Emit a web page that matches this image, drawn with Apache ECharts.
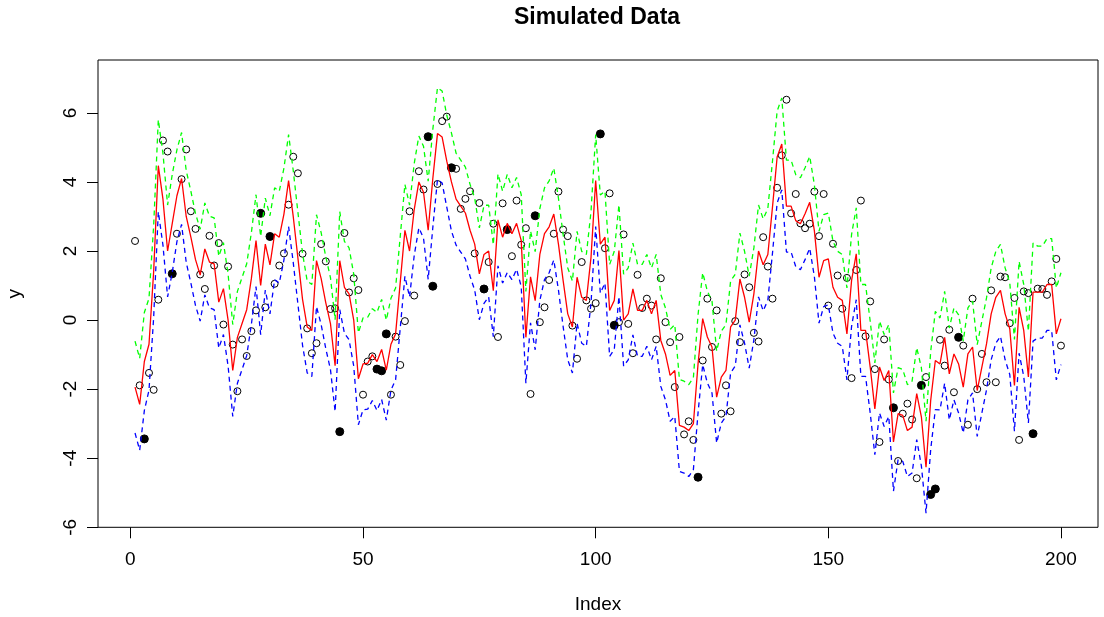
<!DOCTYPE html>
<html>
<head>
<meta charset="utf-8">
<script src="https://cdn.jsdelivr.net/npm/echarts@6/dist/echarts.min.js"></script>
<style>
  html, body { margin: 0; padding: 0; background: #fff; }
  #chart { width: 1104px; height: 617px; }
</style>
</head>
<body>
<div id="chart"></div>
<script>
// Smoothed level (red), upper band (green), lower band (blue), index 1..200
const level = [
  -1.94,-2.44,-1.2,-0.7,1.4,4.47,3.5,2.0,2.8,3.6,4.1,3.0,2.4,1.75,1.3,2.06,1.68,1.63,0.52,0.91,
  0.0,-1.46,-0.5,-0.1,0.3,1.2,2.3,1.0,2.2,1.6,2.5,2.4,3.07,4.04,3.0,1.8,0.6,-0.2,-0.3,1.72,
  1.2,0.5,-0.1,-1.32,1.72,0.95,0.76,0.0,-1.7,-1.27,-1.25,-1.0,-1.2,-0.85,-1.45,-0.7,-0.4,1.1,2.6,2.0,
  3.2,4.0,3.7,2.6,4.1,5.4,5.3,4.6,4.0,3.5,3.3,3.1,2.6,2.2,1.34,1.9,2.0,0.85,2.9,2.4,
  2.8,2.5,2.8,2.3,-0.5,1.25,0.56,1.9,2.5,2.7,3.07,2.2,1.15,0.18,-0.2,1.24,0.66,0.57,1.82,4.04,
  2.2,2.4,0.28,0.57,2.01,0.0,0.18,0.9,0.28,0.28,0.57,0.18,0.57,-0.59,-0.98,-1.6,-1.46,-3.05,-3.1,-3.2,
  -3.0,-1.27,0.04,-0.49,-0.78,-2.23,-1.65,-1.46,-0.2,0.0,1.19,0.66,-0.06,0.76,2.0,1.6,1.9,3.27,4.72,5.1,
  3.3,3.3,2.88,2.79,3.08,3.41,2.59,1.24,1.72,1.77,0.95,0.66,0.57,-0.4,1.15,1.92,-0.3,-0.3,-1.36,-2.57,
  -1.36,-1.75,-1.46,-3.53,-2.71,-2.76,-3.2,-3.1,-2.13,-2.8,-4.26,-2.33,-1.17,-1.27,-0.5,-1.56,-0.98,-1.27,-1.94,-0.98,
  -0.78,-2.04,-1.36,-0.69,0.18,0.66,0.86,0.18,-0.25,-1.89,0.37,-0.3,-1.65,0.81,0.81,0.81,1.03,1.03,-0.4,0.04
];
const upper = [
  -0.61,-1.11,0.22,0.63,2.73,5.8,4.83,3.33,4.22,4.93,5.43,4.33,3.73,3.08,2.63,3.39,3.01,2.96,1.85,2.24,
  1.33,-0.13,0.83,1.23,1.63,2.53,3.63,2.42,3.53,3.02,3.83,3.73,4.4,5.37,4.33,3.13,1.93,1.13,1.03,3.05,
  2.53,1.83,1.23,0.01,3.14,2.28,2.09,1.33,-0.37,0.06,0.08,0.33,0.22,0.6,0.0,0.63,0.93,2.43,3.93,3.33,
  4.53,5.33,5.03,4.02,5.52,6.73,6.63,5.93,5.42,4.83,4.63,4.43,3.93,3.53,2.67,3.32,3.33,2.18,4.23,3.73,
  4.22,3.83,4.13,3.63,0.83,2.58,1.98,3.23,3.83,4.03,4.4,3.53,2.48,1.51,1.13,2.57,1.99,1.9,3.15,5.37,
  3.62,3.73,1.61,1.99,3.34,1.33,1.51,2.23,1.61,1.61,1.9,1.51,1.9,0.74,0.35,-0.27,-0.13,-1.72,-1.77,-1.87,
  -1.67,0.15,1.37,0.84,0.55,-0.9,-0.32,-0.13,1.13,1.33,2.52,1.99,1.27,2.09,3.33,2.93,3.23,4.6,6.05,6.43,
  4.63,4.63,4.21,4.12,4.41,4.74,3.92,2.57,3.05,3.1,2.28,1.99,1.9,0.93,2.48,3.25,1.03,1.03,-0.03,-1.24,
  -0.03,-0.42,-0.13,-2.11,-1.38,-1.43,-1.87,-1.77,-0.8,-1.38,-2.93,-0.91,0.25,0.06,0.83,-0.23,0.35,0.15,-0.61,0.35,
  0.55,-0.71,-0.03,0.64,1.51,1.99,2.19,1.51,1.08,-0.56,1.7,1.03,-0.32,2.23,2.14,2.14,2.36,2.36,0.93,1.37
];
const lower = [
  -3.27,-3.77,-2.62,-2.03,0.07,3.14,2.17,0.67,1.38,2.27,2.77,1.67,1.07,0.42,-0.03,0.73,0.35,0.3,-0.81,-0.42,
  -1.33,-2.79,-1.83,-1.43,-1.03,-0.13,0.97,-0.42,0.87,0.18,1.17,1.07,1.74,2.71,1.67,0.47,-0.73,-1.53,-1.63,0.39,
  -0.13,-0.83,-1.43,-2.65,0.3,-0.38,-0.57,-1.33,-3.03,-2.6,-2.58,-2.33,-2.62,-2.3,-2.9,-2.03,-1.73,-0.23,1.27,0.67,
  1.87,2.67,2.37,1.18,2.68,4.07,3.97,3.27,2.58,2.17,1.97,1.77,1.27,0.87,0.01,0.48,0.67,-0.48,1.57,1.07,
  1.38,1.17,1.47,0.97,-1.83,-0.08,-0.86,0.57,1.17,1.37,1.74,0.87,-0.18,-1.15,-1.53,-0.09,-0.67,-0.76,0.49,2.71,
  0.78,1.07,-1.05,-0.85,0.68,-1.33,-1.15,-0.43,-1.05,-1.05,-0.76,-1.15,-0.76,-1.92,-2.31,-2.93,-2.79,-4.38,-4.43,-4.53,
  -4.33,-2.69,-1.29,-1.82,-2.11,-3.56,-2.98,-2.79,-1.53,-1.33,-0.14,-0.67,-1.39,-0.57,0.67,0.27,0.57,1.94,3.39,3.77,
  1.97,1.97,1.55,1.46,1.75,2.08,1.26,-0.09,0.39,0.44,-0.38,-0.67,-0.76,-1.73,-0.18,0.59,-1.63,-1.63,-2.69,-3.9,
  -2.69,-3.08,-2.79,-4.95,-4.04,-4.09,-4.53,-4.43,-3.46,-4.22,-5.59,-3.75,-2.59,-2.6,-1.83,-2.89,-2.31,-2.69,-3.27,-2.31,
  -2.11,-3.37,-2.69,-2.02,-1.15,-0.67,-0.47,-1.15,-1.58,-3.22,-0.96,-1.63,-2.98,-0.61,-0.52,-0.52,-0.3,-0.3,-1.73,-1.29
];
// Observations, index 1..200
const observed = [
  2.29,-1.89,-3.44,-1.53,-2.02,0.59,5.2,4.88,1.34,2.5,4.08,4.94,3.15,2.64,1.32,0.9,2.44,1.58,2.23,-0.13,
  1.55,-0.71,-2.06,-0.56,-1.04,-0.32,0.28,3.09,0.37,2.42,1.05,1.58,1.93,3.34,4.73,4.25,1.92,-0.24,-0.96,-0.67,
  2.2,1.7,0.32,0.34,-3.23,2.52,0.8,1.21,0.87,-2.16,-1.2,-1.05,-1.42,-1.47,-0.4,-2.16,-0.48,-1.3,-0.03,3.15,
  0.71,4.31,3.78,5.31,0.98,3.94,5.76,5.89,4.41,4.38,3.22,3.51,3.73,1.93,3.39,0.9,1.68,2.79,-0.49,3.38,
  2.62,1.85,3.46,2.18,2.66,-2.14,3.02,-0.06,0.37,1.16,2.5,3.72,2.62,2.43,-0.16,-1.12,1.68,0.57,0.33,0.49,
  5.39,2.08,3.67,-0.15,-0.06,2.48,-0.11,-0.96,1.31,0.35,0.62,0.42,-0.56,1.21,-0.06,-0.64,-1.94,-0.49,-3.31,-2.93,
  -3.47,-4.55,-1.17,0.62,-0.78,0.28,-2.71,-1.89,-2.64,-0.03,-0.64,1.32,0.95,-0.37,-0.62,2.4,1.55,0.62,3.83,4.77,
  6.38,3.09,3.65,2.8,2.66,2.79,3.72,2.43,3.65,0.42,2.21,1.29,0.33,1.22,-1.68,1.45,3.46,-0.47,0.54,-1.42,
  -3.53,-0.56,-1.72,-2.54,-4.08,-2.71,-2.42,-2.88,-4.58,-1.89,-1.65,-5.05,-4.89,-0.57,-1.32,-0.28,-2.09,-0.5,-0.74,-3.03,
  0.62,-2.0,-0.98,-1.8,0.86,-1.8,1.26,1.24,-0.09,0.64,-3.47,0.83,0.78,-3.29,0.91,0.9,0.73,1.12,1.77,-0.74
];
// Indices of the flagged (solid) observations
const flagged = [3,9,28,30,45,53,54,55,64,65,69,76,81,87,101,104,122,164,170,172,173,178,194];
const xTicks = [0, 50, 100, 150, 200];
const yTicks = [-6, -4, -2, 0, 2, 4, 6];

const idx = level.map((_, i) => i + 1);
const pair = arr => arr.map((v, i) => [idx[i], v]);
const flaggedSet = new Set(flagged);
const openPts = [], solidPts = [];
observed.forEach((v, i) => {
  (flaggedSet.has(idx[i]) ? solidPts : openPts).push([idx[i], v]);
});

const FONT = 'Liberation Sans, Arial, sans-serif';
const chart = echarts.init(document.getElementById('chart'), null, { renderer: 'canvas' });

chart.setOption({
  animation: false,
  backgroundColor: '#ffffff',
  grid: {
    left: 98, top: 60, right: 6, bottom: 89.7,
    outerBoundsMode: 'none', containLabel: false,
    show: true, borderColor: '#000', borderWidth: 1, backgroundColor: 'transparent'
  },
  graphic: [{
    type: 'text', x: 597, y: 6,
    style: { text: 'Simulated Data', font: 'bold 23px ' + FONT, fill: '#000', align: 'center', textAlign: 'center' }
  }],
  xAxis: {
    type: 'value', min: -6.96, max: 207.96,
    name: 'Index', nameLocation: 'middle', nameGap: 68,
    nameTextStyle: { fontFamily: FONT, fontSize: 19, color: '#000' },
    axisLine: { show: false, onZero: false },
    splitLine: { show: false },
    axisTick: { show: true, inside: false, length: 11, customValues: xTicks, lineStyle: { color: '#000', width: 1 } },
    axisLabel: { customValues: xTicks, margin: 23, fontFamily: FONT, fontSize: 19, color: '#000' }
  },
  yAxis: {
    type: 'value', min: -6, max: 7.53,
    name: 'y', nameLocation: 'middle', nameGap: 74, nameRotate: 90,
    nameTextStyle: { fontFamily: FONT, fontSize: 19, color: '#000' },
    axisLine: { show: false, onZero: false },
    splitLine: { show: false },
    axisTick: { show: true, inside: false, length: 11, customValues: yTicks, lineStyle: { color: '#000', width: 1 } },
    axisLabel: { customValues: yTicks, rotate: 90, margin: 18, fontFamily: FONT, fontSize: 19, color: '#000' }
  },
  series: [
    {
      type: 'scatter', data: openPts, symbol: 'circle', symbolSize: 7, z: 2,
      itemStyle: { color: 'rgba(0,0,0,0)', borderColor: '#000', borderWidth: 1, opacity: 1 }
    },
    {
      type: 'scatter', data: solidPts, symbol: 'circle', symbolSize: 8, z: 2,
      itemStyle: { color: '#000', borderColor: '#000', borderWidth: 1, opacity: 1 }
    },
    {
      type: 'line', data: pair(upper), showSymbol: false, z: 3,
      lineStyle: { color: '#00ff00', width: 1.3, type: [5, 4] }
    },
    {
      type: 'line', data: pair(lower), showSymbol: false, z: 3,
      lineStyle: { color: '#0000ff', width: 1.3, type: [5, 4] }
    },
    {
      type: 'line', data: pair(level), showSymbol: false, z: 4,
      lineStyle: { color: '#ff0000', width: 1.3 }
    }
  ]
});
</script>
</body>
</html>
